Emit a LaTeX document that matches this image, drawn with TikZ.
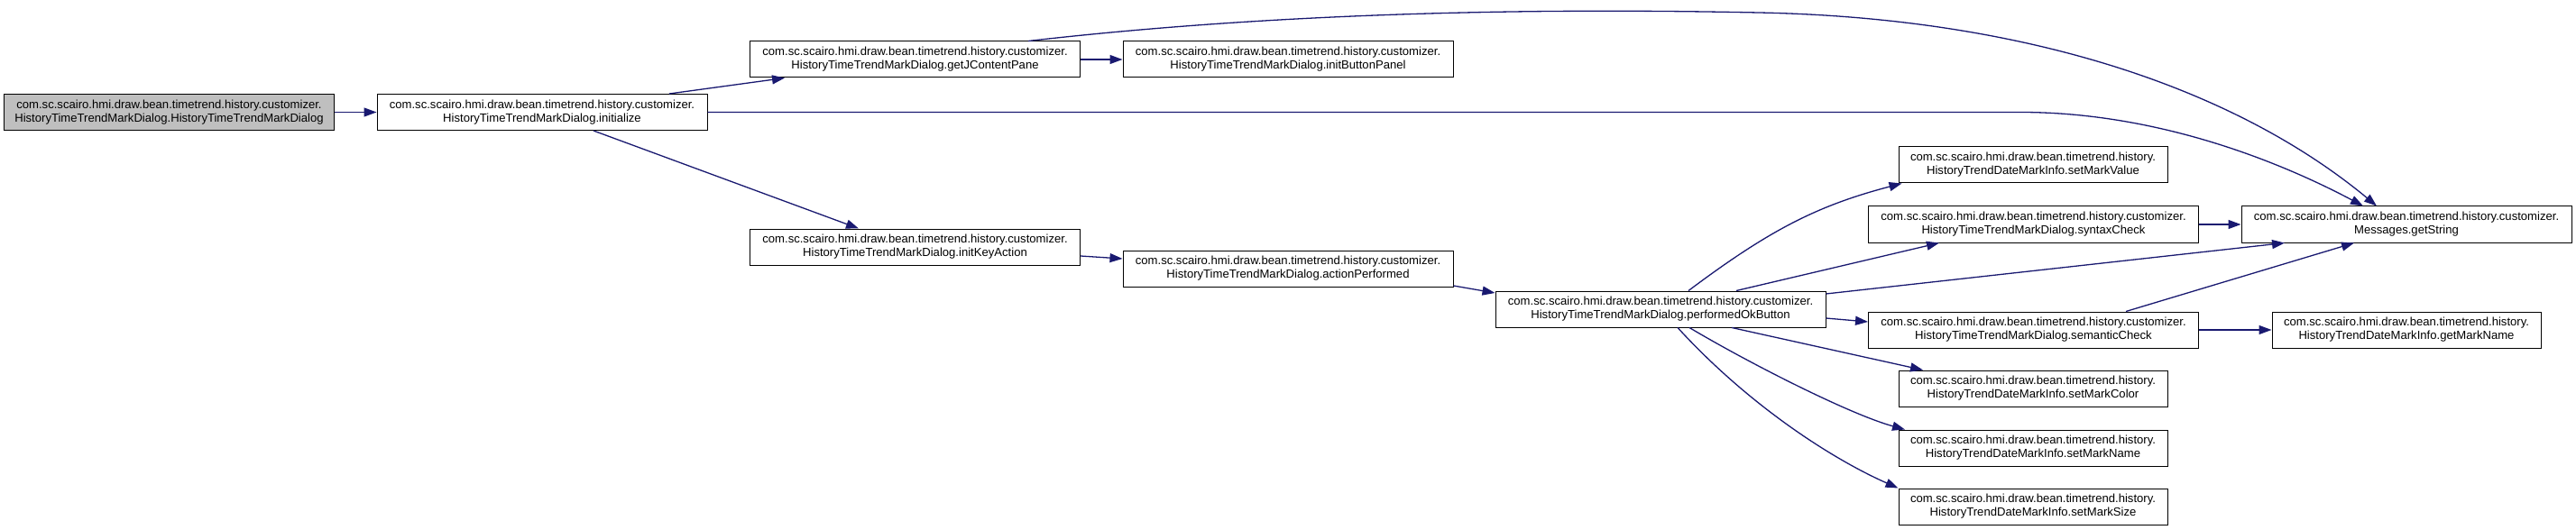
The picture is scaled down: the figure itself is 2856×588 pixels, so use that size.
\documentclass[tikz,border=0pt]{standalone}
\usepackage{fontspec}
\setmainfont{Liberation Sans}
\usetikzlibrary{arrows.meta}
\definecolor{edgeblue}{HTML}{191970}
\definecolor{nodegray}{HTML}{BFBFBF}
\tikzset{
  fnode/.style={draw=black, line width=1pt, fill=white, rectangle, inner sep=0pt,
    minimum width=366pt, minimum height=40pt, align=center,
    font=\fontsize{13.1pt}{15pt}\selectfont},
  snode/.style={fnode, minimum width=298pt},
  rootnode/.style={fnode, fill=nodegray},
  edge/.style={draw=edgeblue, line width=1.3pt, -{Triangle[length=14pt,width=10pt]}}
}
\begin{document}
\begin{tikzpicture}[x=1pt,y=-1pt]
\useasboundingbox (0,0) rectangle (2856,588);
\node[rootnode] (n1) at (187.5,124.5) {com.sc.scairo.hmi.draw.bean.timetrend.history.customizer.\\HistoryTimeTrendMarkDialog.HistoryTimeTrendMarkDialog};
\node[fnode] (n2) at (601,124.5) {com.sc.scairo.hmi.draw.bean.timetrend.history.customizer.\\HistoryTimeTrendMarkDialog.initialize};
\node[fnode] (n3) at (1014.5,66) {com.sc.scairo.hmi.draw.bean.timetrend.history.customizer.\\HistoryTimeTrendMarkDialog.getJContentPane};
\node[fnode] (n4) at (1428,66) {com.sc.scairo.hmi.draw.bean.timetrend.history.customizer.\\HistoryTimeTrendMarkDialog.initButtonPanel};
\node[fnode] (n5) at (1014.5,274) {com.sc.scairo.hmi.draw.bean.timetrend.history.customizer.\\HistoryTimeTrendMarkDialog.initKeyAction};
\node[fnode] (n6) at (1428,298) {com.sc.scairo.hmi.draw.bean.timetrend.history.customizer.\\HistoryTimeTrendMarkDialog.actionPerformed};
\node[fnode] (n7) at (1841,343) {com.sc.scairo.hmi.draw.bean.timetrend.history.customizer.\\HistoryTimeTrendMarkDialog.performedOkButton};
\node[snode] (n8) at (2254,183) {com.sc.scairo.hmi.draw.bean.timetrend.history.\\HistoryTrendDateMarkInfo.setMarkValue};
\node[fnode] (n9) at (2254.5,249) {com.sc.scairo.hmi.draw.bean.timetrend.history.customizer.\\HistoryTimeTrendMarkDialog.syntaxCheck};
\node[fnode] (n10) at (2668,249) {com.sc.scairo.hmi.draw.bean.timetrend.history.customizer.\\Messages.getString};
\node[fnode] (n11) at (2254.5,366) {com.sc.scairo.hmi.draw.bean.timetrend.history.customizer.\\HistoryTimeTrendMarkDialog.semanticCheck};
\node[snode] (n12) at (2668,366) {com.sc.scairo.hmi.draw.bean.timetrend.history.\\HistoryTrendDateMarkInfo.getMarkName};
\node[snode] (n13) at (2254,431) {com.sc.scairo.hmi.draw.bean.timetrend.history.\\HistoryTrendDateMarkInfo.setMarkColor};
\node[snode] (n14) at (2254,497) {com.sc.scairo.hmi.draw.bean.timetrend.history.\\HistoryTrendDateMarkInfo.setMarkName};
\node[snode] (n15) at (2254,562) {com.sc.scairo.hmi.draw.bean.timetrend.history.\\HistoryTrendDateMarkInfo.setMarkSize};

\path[edge] (n1.east) -- (n2.west);
\path[edge] ([xshift=141pt]n2.north) -- ([xshift=-144.5pt]n3.south);
\path[edge] (n2.east) -- (2240,124.5) .. controls (2390,124.5) and (2525,178) .. ([xshift=-48pt]n10.north);
\path[edge] ([xshift=125.5pt]n3.north) .. controls (1450,10) and (1750,10) .. (1950,14) .. controls (2250,20) and (2480,100) .. ([xshift=-33pt]n10.north);
\path[edge] (n3.east) -- (n4.west);
\path[edge] ([xshift=57pt]n2.south) -- ([xshift=-62.5pt]n5.north);
\path[edge] ([yshift=-10pt]n5.east) -- ([yshift=11pt]n6.west);
\path[edge] ([yshift=-19pt]n6.east) -- ([yshift=18pt]n7.west);
\path[edge] ([xshift=31pt]n7.north) .. controls (1962,255) and (2015,228) .. ([xshift=4pt]n8.south west);
\path[edge] ([xshift=84pt]n7.north) -- ([xshift=-104.5pt]n9.south);
\path[edge] ([yshift=17pt]n7.east) -- ([xshift=-135pt]n10.south);
\path[edge] (n9.east) -- (n10.west);
\path[edge] ([xshift=102.5pt]n11.north) -- ([xshift=-58pt]n10.south);
\path[edge] ([yshift=-10pt]n7.east) -- ([yshift=9pt]n11.west);
\path[edge] (n11.east) -- (n12.west);
\path[edge] ([xshift=79pt]n7.south) -- ([xshift=-122pt]n13.north);
\path[edge] ([xshift=32pt]n7.south) .. controls (1943,405) and (2052,460) .. ([xshift=-142pt]n14.north);
\path[edge] ([xshift=19pt]n7.south) .. controls (1940,451) and (2033,510) .. (n15.north west);
\end{tikzpicture}
\end{document}
